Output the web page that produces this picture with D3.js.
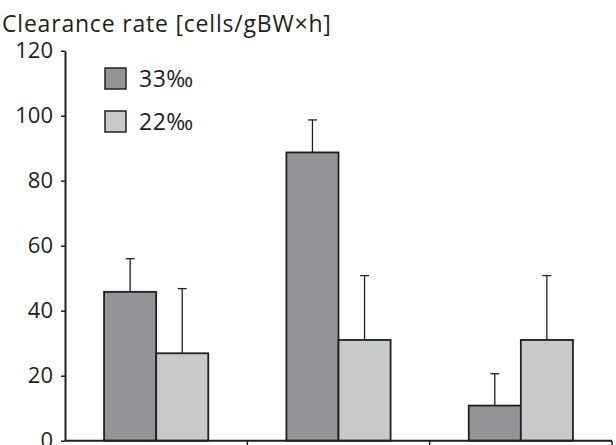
<!DOCTYPE html>
<html>
<head>
<meta charset="utf-8">
<script src="https://cdn.jsdelivr.net/npm/d3@7"></script>
<style>
	body { margin: 0; background: #fff; }
	svg { display: block; font-family: "Open Sans", "Noto Sans", sans-serif; }
</style>
</head>
<body>
<svg width="616" height="445"></svg>
<script>
const groups = ["A", "B", "C"];
const series = ["33‰", "22‰"];
const means33 = [45.8, 88.7, 10.8];
const errs33 = [10.2, 10.0, 9.8];
const means22 = [26.9, 31.0, 31.0];
const errs22 = [19.9, 19.8, 19.8];
const yTicks = [0, 20, 40, 60, 80, 100, 120];
const colors = ["#939498", "#c8c9cb"];

const svg = d3.select("svg");
const margin = { top: 50.7, right: 4, bottom: 4, left: 65 };
const width = 616 - margin.left - margin.right;
const height = 445 - margin.top - margin.bottom - 0.3;

const data = groups.map((g, i) => ({
	group: g,
	values: [
		{ key: series[0], v: means33[i], e: errs33[i] },
		{ key: series[1], v: means22[i], e: errs22[i] }
	]
}));

const x0 = d3.scaleBand().domain(groups).range([0, width]);
const x1 = d3.scaleBand().domain(series).range([0, x0.bandwidth()]).paddingInner(0).paddingOuter(0.75);
const y = d3.scaleLinear([0, 120], [height, 0]);
const color = d3.scaleOrdinal(series, colors);

const g = svg.append("g").attr("transform", `translate(${margin.left},${margin.top})`);

// error bars (behind bars)
const grp = g.selectAll(".grp")
	.data(data)
	.join("g")
	.attr("class", "grp")
	.attr("transform", d => `translate(${x0(d.group)},0)`);

const err = grp.selectAll(".err")
	.data(d => d.values)
	.join("g")
	.attr("class", "err")
	.attr("stroke", "#231f20")
	.attr("stroke-width", 1.3);

err.append("line")
	.attr("x1", d => x1(d.key) + x1.bandwidth() / 2)
	.attr("x2", d => x1(d.key) + x1.bandwidth() / 2)
	.attr("y1", d => y(d.v))
	.attr("y2", d => y(d.v + d.e));

err.append("line")
	.attr("x1", d => x1(d.key) + x1.bandwidth() / 2 - 4.5)
	.attr("x2", d => x1(d.key) + x1.bandwidth() / 2 + 4.5)
	.attr("y1", d => y(d.v + d.e))
	.attr("y2", d => y(d.v + d.e));

grp.selectAll("rect")
	.data(d => d.values)
	.join("rect")
	.attr("x", d => x1(d.key))
	.attr("y", d => y(d.v))
	.attr("width", x1.bandwidth())
	.attr("height", d => y(0) - y(d.v))
	.attr("fill", d => color(d.key))
	.attr("stroke", "#231f20")
	.attr("stroke-width", 1.8);

// y axis
const yAxis = d3.axisLeft(y).tickValues(yTicks).tickSize(4).tickPadding(8).tickSizeOuter(0);
const gY = g.append("g").call(yAxis);
gY.select(".domain").attr("stroke", "#231f20").attr("stroke-width", 2);
gY.selectAll(".tick line").attr("stroke", "#231f20").attr("stroke-width", 1.5);
gY.selectAll(".tick text")
	.attr("font-size", 22)
	.attr("fill", "#231f20")
	.attr("font-family", "'Open Sans', 'Noto Sans', sans-serif");

// x axis: ticks at group boundaries, pointing down
const gX = g.append("g").attr("transform", `translate(0,${height})`);
gX.append("line")
	.attr("x1", 0).attr("x2", width)
	.attr("stroke", "#231f20").attr("stroke-width", 2);
gX.selectAll(".xt")
	.data(groups.slice(1).map(d => x0(d)).concat([width]))
	.join("line")
	.attr("class", "xt")
	.attr("x1", d => d).attr("x2", d => d)
	.attr("y1", 0).attr("y2", 6)
	.attr("stroke", "#231f20").attr("stroke-width", 1.5);

// title
svg.append("text")
	.attr("x", 2)
	.attr("y", 32)
	.attr("font-size", 23)
	.attr("letter-spacing", 0.8)
	.attr("fill", "#231f20")
	.text("Clearance rate [cells/gBW×h]");

// legend
const legend = g.append("g").attr("transform", `translate(${105 - margin.left},${68 - margin.top})`);
const li = legend.selectAll("g")
	.data(series)
	.join("g")
	.attr("transform", (d, i) => `translate(0,${i * 43})`);
li.append("rect")
	.attr("width", 21).attr("height", 21)
	.attr("fill", d => color(d))
	.attr("stroke", "#231f20").attr("stroke-width", 1.5);
li.append("text")
	.attr("x", 34).attr("y", 19)
	.attr("font-size", 23)
	.attr("letter-spacing", 0.5)
	.attr("fill", "#231f20")
	.text(d => d);
</script>
</body>
</html>
